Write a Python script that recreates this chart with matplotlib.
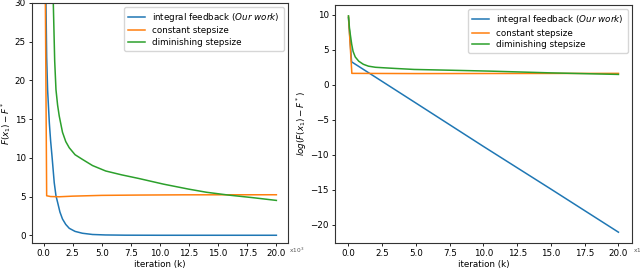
import matplotlib
matplotlib.use("Agg")
import matplotlib.pyplot as plt

# iteration in thousands
# left panel: F(x_1) - F*
blue_x = [0, 0.2, 0.26, 0.34, 0.49, 0.6, 0.72, 0.91, 1.06, 1.2, 1.4, 1.62, 1.9, 2.2, 2.7, 3.33, 4.2, 5.3, 7.0, 10.0, 20.0]
blue_y = [60, 30, 23, 18.8, 14.5, 12.2, 10.2, 6.8, 5.1, 4.25, 3.0, 2.1, 1.4, 0.9, 0.5, 0.26, 0.1, 0.04, 0.01, 0.0, 0.0]
orange_x = [0, 0.15, 0.26, 0.6, 1.34, 2.5, 5.0, 8.2, 12.0, 20.0]
orange_y = [60, 30, 5.1, 5.0, 4.97, 5.05, 5.15, 5.19, 5.22, 5.23]
green_x = [0.5, 0.83, 0.95, 1.06, 1.2, 1.34, 1.62, 1.9, 2.2, 2.7, 3.33, 4.2, 5.33, 6.7, 8.18, 10.3, 12.45, 14.0, 15.87, 18.0, 20.0]
green_y = [60, 30, 22.5, 18.8, 16.8, 15.4, 13.3, 12.1, 11.3, 10.4, 9.8, 9.0, 8.3, 7.8, 7.33, 6.6, 5.96, 5.55, 5.19, 4.85, 4.5]

# right panel: log(F(x_1) - F*)
log_blue_x = [0, 0.23, 5.0, 10.0, 15.0, 20.0]
log_blue_y = [9.6, 3.3, -2.6, -8.8, -14.9, -21.06]
log_orange_x = [0, 0.25, 5.0, 10.0, 20.0]
log_orange_y = [9.8, 1.65, 1.62, 1.63, 1.65]
log_green_x = [0, 0.07, 0.14, 0.24, 0.34, 0.5, 0.76, 1.1, 1.48, 2.0, 2.6, 3.5, 4.87, 7.5, 10.5, 15.0, 20.0]
log_green_y = [9.87, 8.2, 7.15, 5.8, 4.8, 4.0, 3.39, 2.95, 2.68, 2.52, 2.45, 2.35, 2.21, 2.1, 1.97, 1.72, 1.5]

labels = [r"integral feedback ($\it{Our\ work}$)", "constant stepsize", "diminishing stepsize"]
xticks = [0.0, 2.5, 5.0, 7.5, 10.0, 12.5, 15.0, 17.5, 20.0]

fs = 6.3
lw = 1.1
fig = plt.figure(figsize=(6.4, 2.71), dpi=100)
ax1 = fig.add_axes([0.05, 0.1033, 0.4, 0.886])
ax2 = fig.add_axes([0.5234, 0.1033, 0.464, 0.878])

ax1.plot(blue_x, blue_y, lw=lw, label=labels[0])
ax1.plot(orange_x, orange_y, lw=lw, label=labels[1])
ax1.plot(green_x, green_y, lw=lw, label=labels[2])
ax1.set_ylim(-1, 30)
ax1.set_ylabel(r"$F(x_1) - F^*$", fontsize=fs, labelpad=1)

ax2.plot(log_blue_x, log_blue_y, lw=lw, label=labels[0])
ax2.plot(log_orange_x, log_orange_y, lw=lw, label=labels[1])
ax2.plot(log_green_x, log_green_y, lw=lw, label=labels[2])
ax2.set_ylabel(r"$log(F(x_1) - F^*)$", fontsize=fs, labelpad=1)

for ax in (ax1, ax2):
    ax.set_xlim(-1, 21)
    ax.set_xticks(xticks)
    ax.set_xlabel("iteration (k)", fontsize=fs, labelpad=1)
    ax.tick_params(labelsize=fs, length=2.5, width=0.6, pad=2)
    for s in ax.spines.values():
        s.set_linewidth(0.8)
        s.set_color("#333333")
    ax.legend(loc="upper right", fontsize=fs, handlelength=2.0, borderpad=0.4, labelspacing=0.3)
    # the x10^3 factor next to the axis end
    ax.annotate(r"x10$^3$", xy=(1.0, 0.0), xycoords="axes fraction", xytext=(0.5, -5),
                textcoords="offset points", fontsize=4.2, color="#555555", va="center", ha="left")

fig.savefig("out.png", dpi=100)
